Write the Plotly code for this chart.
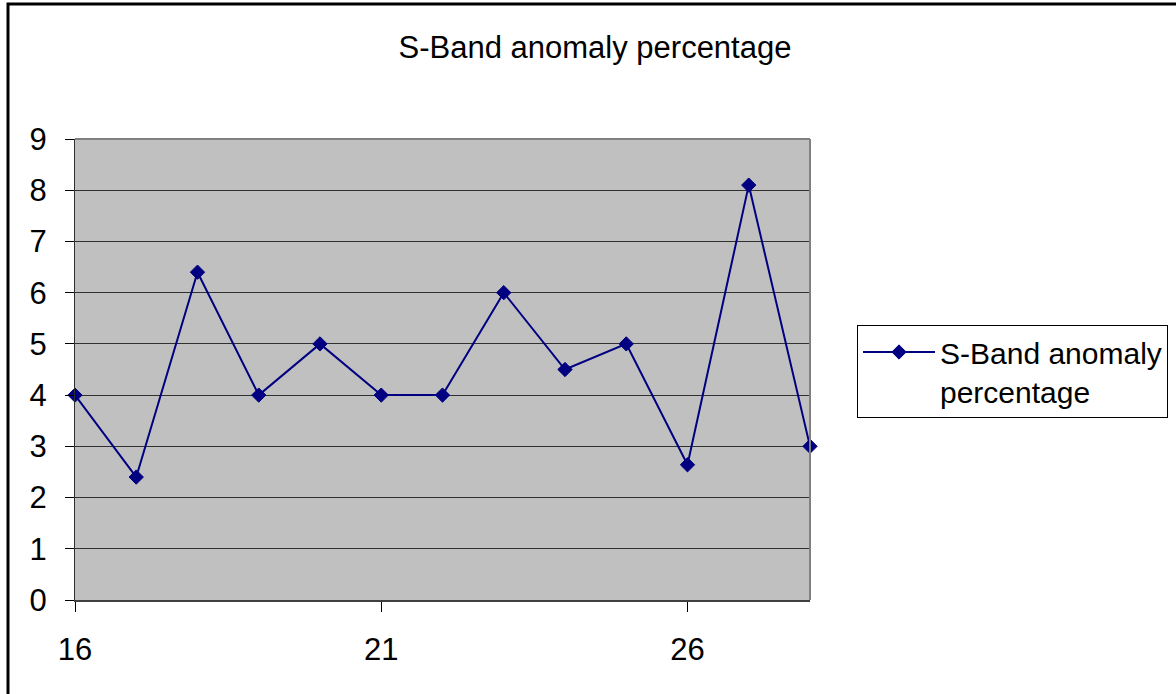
import plotly.graph_objects as go

# Day numbers and the S-Band anomaly percentage measured on each day
days = [16, 17, 18, 19, 20, 21, 22, 23, 24, 25, 26, 27, 28]
anomaly_pct = [4, 2.4, 6.4, 4, 5, 4, 4, 6, 4.5, 5, 2.64, 8.1, 3]

series_name = "S-Band anomaly<br>percentage"
chart_title = "S-Band anomaly percentage"
x_ticks = [16, 21, 26]
y_ticks = [0, 1, 2, 3, 4, 5, 6, 7, 8, 9]

W, H = 1176, 694
L, R, T, B = 75, 810, 139, 600  # plot area in pixels
pw, ph = R - L, B - T


def px(xp):
    return (xp - L) / pw


def py(yp):
    return (B - yp) / ph


FONT = "Liberation Sans, Arial, sans-serif"
FS = 31
NAVY = "#000080"

fig = go.Figure()
fig.add_trace(go.Scatter(
    x=days, y=anomaly_pct, mode="lines+markers", name=series_name,
    line=dict(color=NAVY, width=2),
    marker=dict(symbol="diamond", size=11, color=NAVY,
                line=dict(color=NAVY, width=1)),
    cliponaxis=False,
    showlegend=True,
))

fig.update_layout(
    width=W, height=H,
    margin=dict(l=L, r=W - R, t=T, b=H - B, pad=0, autoexpand=False),
    paper_bgcolor="white",
    plot_bgcolor="#C0C0C0",
    font=dict(family=FONT, size=FS, color="black"),
    title=dict(text=chart_title, x=595 / W, xanchor="center",
               y=1 - 47 / H, yanchor="middle",
               font=dict(family=FONT, size=FS, color="black")),
    xaxis=dict(range=[16, 28], tickvals=x_ticks, ticktext=[str(v) for v in x_ticks],
               showgrid=False, zeroline=False,
               showline=True, linecolor="#404040", linewidth=2,
               ticks="outside", ticklen=10, tickcolor="black", tickwidth=1,
               ticklabelstandoff=11, fixedrange=True),
    yaxis=dict(range=[0, 9], tickvals=y_ticks, ticktext=[str(v) for v in y_ticks],
               showgrid=True, gridcolor="#303030", gridwidth=1,
               zeroline=False,
               showline=True, linecolor="#303030", linewidth=1,
               ticks="outside", ticklen=9, tickcolor="black", tickwidth=1,
               ticklabelstandoff=12, fixedrange=True),
    legend=dict(x=px(857), y=py(325), xanchor="left", yanchor="top",
                bgcolor="white", bordercolor="black", borderwidth=1,
                valign="top", itemwidth=72,
                font=dict(family=FONT, size=30, color="black"),
                tracegroupgap=0),
    shapes=[
        # top and right edges of the plot area
        dict(type="line", xref="paper", yref="paper", x0=0, x1=1, y0=1, y1=1,
             line=dict(color="#808080", width=2)),
        dict(type="line", xref="paper", yref="paper", x0=1, x1=1, y0=0, y1=1,
             line=dict(color="#808080", width=2)),
        # chart frame
        dict(type="rect", xref="paper", yref="paper",
             x0=px(8), x1=px(W + 20), y0=py(H + 20), y1=py(4),
             line=dict(color="black", width=3), fillcolor="rgba(0,0,0,0)",
             layer="above"),
    ],
)

fig.write_html("out.html", config={"displayModeBar": False})
